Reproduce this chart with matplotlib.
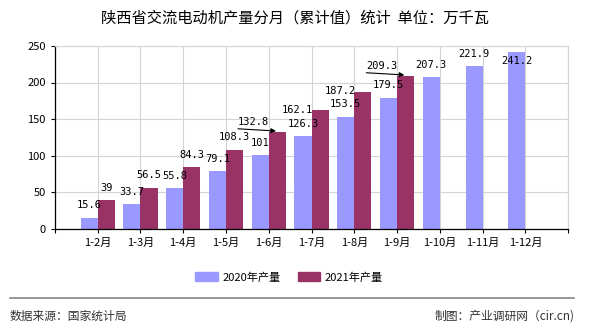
import matplotlib
matplotlib.use('Agg')
import matplotlib.pyplot as plt
import matplotlib.patches as mpatches
import numpy as np

plt.rcParams['font.family'] = ['Noto Sans CJK SC', 'DejaVu Sans']

# data
categories = ['1-2月', '1-3月', '1-4月', '1-5月', '1-6月', '1-7月',
              '1-8月', '1-9月', '1-10月', '1-11月', '1-12月']
values_2020 = [15.6, 33.7, 55.8, 79.1, 101, 126.3, 153.5, 179.5, 207.3, 221.9, 241.2]
values_2021 = [39, 56.5, 84.3, 108.3, 132.8, 162.1, 187.2, 209.3]
series_names = ['2020年产量', '2021年产量']
title = '陕西省交流电动机产量分月（累计值）统计  单位：万千瓦'

c2020 = '#9999FF'
c2021 = '#993366'
grid_color = '#d4d4d4'
num_font = ['DejaVu Sans Mono']

fig = plt.figure(figsize=(5.9, 3.3), dpi=100)
ax = fig.add_axes([0.093, 0.306, 0.870, 0.555])

w = 0.4
x = np.arange(len(categories))
ax.bar(x[:len(values_2020)] - w / 2, values_2020, w, color=c2020, zorder=2)
ax.bar(x[:len(values_2021)] + w / 2, values_2021, w, color=c2021, zorder=2)

ymax = 250
lab_kw = dict(ha='center', va='center', fontsize=7.5, family=num_font, zorder=4)

# value labels; the source chart nudges a few of them to avoid collisions
for i, v in enumerate(values_2020):
    if v + 17 > ymax:
        ax.text(i - w / 2, v - 12, f'{v:g}', **lab_kw)
    else:
        ax.text(i - w / 2, v + 17, f'{v:g}', **lab_kw)

arrowed = [4, 7]
shifted = [5, 6]
for i, v in enumerate(values_2021):
    if i in arrowed:
        ax.annotate('', xy=(i + 0.17, v + 1), xytext=(i - 0.72, v + 4),
                    arrowprops=dict(arrowstyle='-|>', color='black', lw=0.8,
                                    mutation_scale=7, shrinkA=0, shrinkB=0),
                    zorder=4)
        ax.text(i - 0.36, v + 13.5, f'{v:g}', **lab_kw)
    elif i in shifted:
        ax.text(i - 0.33, v + 1, f'{v:g}', **lab_kw)
    else:
        ax.text(i + w / 2, v + 17, f'{v:g}', **lab_kw)

ax.set_xlim(-1, len(categories))
ax.set_ylim(0, ymax)
ax.set_yticks(np.arange(0, ymax + 1, 50))
ax.set_xticks(np.arange(-1, len(categories) + 1))
ax.set_xticklabels([''] + categories + [''])
ax.tick_params(axis='both', labelsize=8, length=3, width=0.8, colors='black')
ax.grid(True, color=grid_color, lw=0.8, zorder=0)
for s in ['top', 'right']:
    ax.spines[s].set_color(grid_color)
for s in ['left', 'bottom']:
    ax.spines[s].set_color('black')
    ax.spines[s].set_linewidth(0.9)

fig.text(0.5, 0.945, title, ha='center', va='center', fontsize=11)

handles = [mpatches.Patch(color=c2020, label=series_names[0]),
           mpatches.Patch(color=c2021, label=series_names[1])]
fig.legend(handles=handles, loc='center', bbox_to_anchor=(0.49, 0.16), ncol=2,
           frameon=False, fontsize=8, handlelength=2.0, handleheight=0.8,
           columnspacing=1.6, handletextpad=0.4)

fig.add_artist(plt.Line2D([0.017, 0.973], [0.097, 0.097], color='#888888', lw=1.2,
                          transform=fig.transFigure))
fig.text(0.017, 0.042, '数据来源：国家统计局', ha='left', va='center', fontsize=8.5, color='#333333')
fig.text(0.973, 0.042, '制图：产业调研网（cir.cn)', ha='right', va='center', fontsize=8.5, color='#333333')

fig.savefig('out.png', dpi=100, facecolor='white')
